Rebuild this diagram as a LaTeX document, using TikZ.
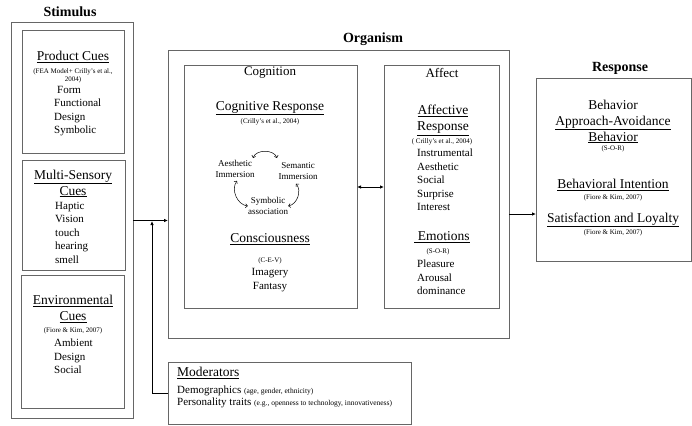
\documentclass[tikz,border=0pt]{standalone}
\usepackage{fontspec}
\setmainfont{Liberation Serif}
\usetikzlibrary{arrows.meta}

\tikzset{
	box/.style={draw=black!60, line width=1pt, inner sep=0pt, outer sep=0pt, anchor=north west},
	head/.style={font=\bfseries\fontsize{14}{16}\selectfont, inner sep=0pt},
	ttl/.style={font=\fontsize{13.5}{16}\selectfont, inner sep=0pt, align=center},
	cite/.style={font=\fontsize{7}{8}\selectfont, inner sep=0pt, align=center},
	item/.style={font=\fontsize{11}{13.5}\selectfont, inner sep=0pt, align=left, anchor=north west},
	mind/.style={font=\fontsize{9}{11}\selectfont, inner sep=0pt, align=center},
	link/.style={-{Latex[length=4pt,width=3.5pt]}, line width=0.9pt},
	loop/.style={{Straight Barb[length=2pt]}-{Straight Barb[length=2pt]}, line width=0.5pt}
}

\begin{document}
\begin{tikzpicture}[x=1pt, y=-1pt]
			\useasboundingbox (0,0) rectangle (692,425);
			
			% boxes
			\node[box, minimum width=122pt, minimum height=395pt] (stim) at (11,23) {};
			\node[box, minimum width=102pt, minimum height=122pt] (prod) at (22,31) {};
			\node[box, minimum width=103pt, minimum height=110pt] (multi) at (22,160) {};
			\node[box, minimum width=103pt, minimum height=133pt] (env) at (21,275) {};
			\node[box, minimum width=341pt, minimum height=287pt] (org) at (168,51) {};
			\node[box, minimum width=173pt, minimum height=242pt] (cog) at (184,66) {};
			\node[box, minimum width=115pt, minimum height=242pt] (aff) at (384,66) {};
			\node[box, minimum width=155pt, minimum height=182pt] (resp) at (536,79) {};
			\node[box, minimum width=243pt, minimum height=62pt] (mod) at (168,362) {};
			
			\node[head] (stimT) at (70,12) {Stimulus};
			\node[head] (orgT) at (373,39) {Organism};
			\node[head] (respT) at (620,68) {Response};
			
			% stimulus
			\node[ttl] (prodT) at (73,57) {\underline{Product Cues}};
			\node[cite] (prodC) at (73,76) {(FEA Model+ Crilly's et al.,\\2004)};
			\node[item] (prodL) at (54,86) {\hspace{3pt}Form\\Functional\\Design\\Symbolic};
			
			\node[ttl] (multiT) at (73,183.5) {\underline{Multi-Sensory}\\\underline{Cues}};
			\node[item] (multiL) at (55,202) {Haptic\\Vision\\touch\\hearing\\smell};
			
			\node[ttl] (envT) at (73,309) {\underline{Environmental}\\\underline{Cues}};
			\node[cite] (envC) at (73,331) {(Fiore \& Kim, 2007)};
			\node[item] (envL) at (54,339) {Ambient\\Design\\Social};
			
			% cognition
			\node[ttl, font=\fontsize{13}{16}\selectfont] (cogT) at (270,73) {Cognition};
			\node[ttl] (cogR) at (270,108) {\underline{Cognitive Response}};
			\node[cite] (cogC) at (270,122) {(Crilly's et al., 2004)};
			\node[mind] (aes) at (235,169) {Aesthetic\\Immersion};
			\node[mind] (sem) at (298,171) {Semantic\\Immersion};
			\node[mind] (sym) at (268,206) {Symbolic\\association};
			\draw[loop] (253,158) to[bend left=70] (277,158);
			\draw[loop] (aes.south) ++(2,3) to[bend right=60] (sym.west);
			\draw[loop] (sem.south) ++(-2,4) to[bend left=60] (sym.east);
			\node[ttl] (cons) at (270,239) {\underline{Consciousness}};
			\node[cite] (consC) at (270,261) {(C-E-V)};
			\node[ttl, font=\fontsize{11}{13.5}\selectfont] (consL) at (270,280) {Imagery\\Fantasy};
			
			% affect
			\node[ttl, font=\fontsize{13}{16}\selectfont] (affT) at (442,73) {Affect};
			\node[ttl] (affR) at (443,120.5) {\underline{Affective}\\\underline{Response}};
			\node[cite] (affC) at (442,142) {( Crilly's et al., 2004)};
			\node[item] (affL) at (417,149) {Instrumental\\Aesthetic\\Social\\Surprise\\Interest};
			\node[ttl] (emo) at (442,237) {\underline{\ Emotions}};
			\node[cite] (emoC) at (438,252) {(S-O-R)};
			\node[item] (emoL) at (417,260) {Pleasure\\Arousal\\dominance};
			
			% response
			\node[ttl] (beh) at (613,121.5) {Behavior\\\underline{Approach-Avoidance}\\\underline{Behavior}};
			\node[cite] (behC) at (613,149) {(S-O-R)};
			\node[ttl] (bint) at (613,185) {\underline{Behavioral Intention}};
			\node[cite] (bintC) at (613,198) {(Fiore \& Kim, 2007)};
			\node[ttl] (sat) at (613,220) {\underline{Satisfaction and Loyalty}};
			\node[cite] (satC) at (613,233) {(Fiore \& Kim, 2007)};
			
			% moderators
			\node[ttl, anchor=west] (modT) at (177,373) {\underline{Moderators}};
			\node[item, font=\fontsize{11}{12}\selectfont] (modL) at (177,386)
				{Demographics {\fontsize{7.5}{8}\selectfont (age, gender, ethnicity)}\\
				Personality traits {\fontsize{7.5}{8}\selectfont (e.g., openness to technology, innovativeness)}};
			
			% connectors
			\coordinate (join) at (152,221);
			\coordinate (o2r) at (509,214);
			\draw[link] (stim.east) -- (stim.east -| org.west);
			\draw[link] (mod.west) -- (mod.west -| join) -- (join);
			\draw[link, {Latex[length=4pt,width=3.5pt]}-{Latex[length=4pt,width=3.5pt]}] (cog.east) -- (aff.west);
			\draw[link] (o2r) -- (o2r -| resp.west);
		\end{tikzpicture}
\end{document}
